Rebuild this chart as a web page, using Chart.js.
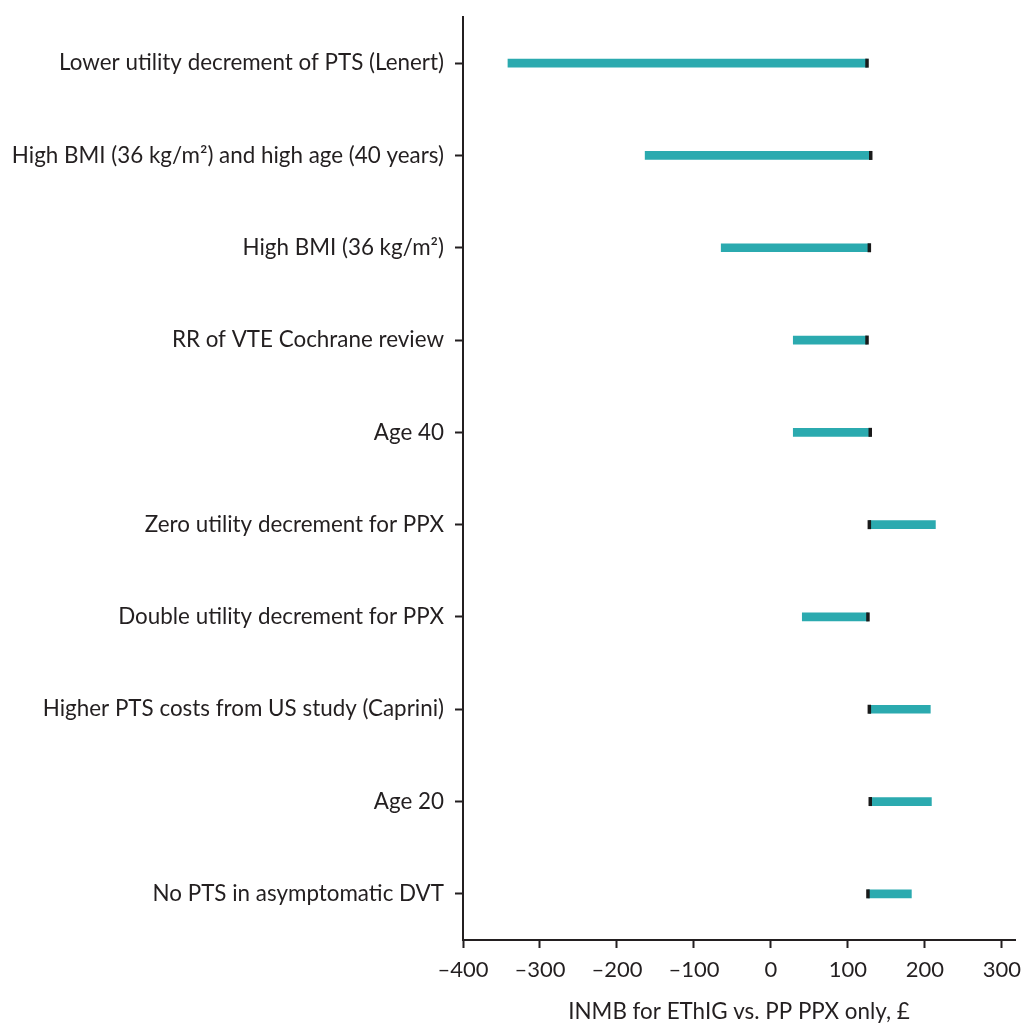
<!DOCTYPE html>
<html>
<head>
<meta charset="utf-8">
<script src="https://cdn.jsdelivr.net/npm/chart.js@4.4.1/dist/chart.umd.min.js"></script>
<style>
  html, body { margin: 0; padding: 0; background: #fff; overflow: hidden; }
  #wrap { width: 1023px; height: 1025px; position: absolute; left: 0; top: 0; }
</style>
</head>
<body>
<div id="wrap"><canvas id="tornado"></canvas></div>
<script>
const categories = [
  'Lower utility decrement of PTS (Lenert)',
  'High BMI (36 kg/m²) and high age (40 years)',
  'High BMI (36 kg/m²)',
  'RR of VTE Cochrane review',
  'Age 40',
  'Zero utility decrement for PPX',
  'Double utility decrement for PPX',
  'Higher PTS costs from US study (Caprini)',
  'Age 20',
  'No PTS in asymptomatic DVT',
];

// base-case INMB (black marker) and the value under each scenario
const baseValues = [124.8, 129.6, 127.8, 124.8, 129, 127.8, 126, 127.8, 129, 126];
const scenarioValues = [-341.6, -163.4, -64.6, 29, 29, 213.6, 40.7, 207, 208.4, 182.4];

const xTicks = [-400, -300, -200, -100, 0, 100, 200, 300];

const textColor = '#231f20';
const axisColor = '#231f20';
const barColor = '#2baaaf';
const fontFamily = 'Lato, "Open Sans", sans-serif';

const ctx = document.getElementById('tornado').getContext('2d');

new Chart(ctx, {
  type: 'bar',
  data: {
    labels: categories,
    datasets: [
      {
        type: 'line',
        label: 'Base case',
        data: baseValues,
        showLine: false,
        pointStyle: 'line',
        rotation: 90,
        radius: 4.5,
        borderWidth: 3.5,
        borderColor: '#1a1a1a',
        backgroundColor: '#1a1a1a',
        order: 0,
      },
      {
        label: 'Scenario',
        data: categories.map((_, i) => [baseValues[i], scenarioValues[i]]),
        backgroundColor: barColor,
        borderSkipped: false,
        barThickness: 8,
        order: 1,
      },
    ],
  },
  options: {
    indexAxis: 'y',
    responsive: true,
    maintainAspectRatio: false,
    animation: false,
    layout: { padding: { top: 17, right: 1, left: 0, bottom: 0 } },
    plugins: {
      legend: { display: false },
      tooltip: { enabled: false },
    },
    scales: {
      x: {
        type: 'linear',
        min: -400,
        max: 317,
        afterBuildTicks: scale => {
          scale.ticks = xTicks.map(v => ({ value: v }));
        },
        afterFit: scale => {
          scale.height = 85;
          scale.paddingLeft = 0;
          scale.paddingRight = 0;
        },
        grid: {
          drawOnChartArea: false,
          drawTicks: true,
          tickLength: 8,
          tickWidth: 2,
          color: axisColor,
        },
        border: { display: true, color: axisColor, width: 2 },
        ticks: {
          color: textColor,
          padding: 9,
          maxRotation: 0,
          font: { family: fontFamily, size: 22 },
          callback: value => (value < 0 ? '\u2013' + Math.abs(value) : String(value)),
        },
        title: {
          display: true,
          text: 'INMB for EThIG vs. PP PPX only, £',
          color: textColor,
          font: { family: fontFamily, size: 22.4 },
          padding: { top: 10, bottom: 0 },
        },
      },
      y: {
        afterFit: scale => {
          scale.width = 463;
          scale.paddingTop = 0;
          scale.paddingBottom = 0;
        },
        grid: {
          offset: false,
          drawOnChartArea: false,
          drawTicks: true,
          tickLength: 8,
          tickWidth: 2,
          color: axisColor,
        },
        border: { display: true, color: axisColor, width: 2 },
        ticks: {
          color: textColor,
          padding: 11,
          autoSkip: false,
          font: { family: fontFamily, size: 22.4 },
        },
      },
    },
  },
});
</script>
</body>
</html>
